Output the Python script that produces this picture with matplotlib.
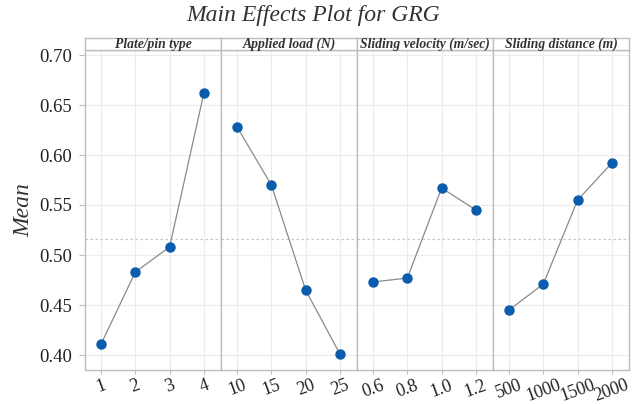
import matplotlib
matplotlib.use("Agg")
import matplotlib.pyplot as plt
import numpy as np

# Factor levels and mean GRG at each level
factors = ["Plate/pin type", "Applied load (N)", "Sliding velocity (m/sec)", "Sliding distance (m)"]
plate_levels = ["1", "2", "3", "4"]
plate_means = [0.411, 0.483, 0.508, 0.662]
load_levels = ["10", "15", "20", "25"]
load_means = [0.628, 0.570, 0.465, 0.401]
velocity_levels = ["0.6", "0.8", "1.0", "1.2"]
velocity_means = [0.473, 0.477, 0.567, 0.545]
distance_levels = ["500", "1000", "1500", "2000"]
distance_means = [0.445, 0.471, 0.555, 0.592]

levels = [plate_levels, load_levels, velocity_levels, distance_levels]
means = [plate_means, load_means, velocity_means, distance_means]
grand_mean = np.mean(plate_means)

serif = ["Liberation Serif", "DejaVu Serif"]
plt.rcParams["font.family"] = serif

fig = plt.figure(figsize=(6.36, 4.04), dpi=100)
left, right = 85 / 636, 629 / 636
bottom, top = 1 - 370 / 404, 1 - 50 / 404
strip_h = 12 / 404
width = (right - left) / 4

fig.text(313 / 636, 1 - 5 / 404, "Main Effects Plot for GRG", ha="center", va="top",
         fontsize=17, style="italic", color="#333333")

border = "#bdbdbd"
for i, (name, lv, mv) in enumerate(zip(factors, levels, means)):
    ax = fig.add_axes([left + i * width, bottom, width, top - bottom])
    x = np.arange(len(lv))
    ax.grid(True, color="#ececec", linewidth=0.8)
    ax.set_axisbelow(True)
    ax.axhline(grand_mean, color="#c8c8c8", linestyle=(0, (2, 2)), linewidth=0.9, zorder=1)
    ax.plot(x, mv, color="#8a8a8a", linewidth=0.9, zorder=2)
    ax.plot(x, mv, "o", color="#0a5cad", markersize=6.5, zorder=3)
    ax.set_xlim(-0.47, 3.5)
    ax.set_ylim(0.385, 0.705)
    ax.set_xticks(x)
    ax.set_xticklabels(lv, rotation=20, ha="center", fontsize=13, color="#222222")
    ax.set_yticks(np.arange(0.40, 0.701, 0.05))
    ax.tick_params(axis="x", length=3, color=border, pad=2)
    ax.tick_params(axis="y", length=4, color=border, labelsize=13.5, labelcolor="#222222", pad=5)
    for s in ax.spines.values():
        s.set_color(border)
        s.set_linewidth(1.0)
    if i > 0:
        ax.tick_params(axis="y", left=False, labelleft=False)
    else:
        ax.set_yticklabels([f"{v:.2f}" for v in np.arange(0.40, 0.701, 0.05)])
        ax.set_ylabel("Mean", fontsize=17, style="italic", color="#333333", labelpad=4)

    # header strip with factor name
    sax = fig.add_axes([left + i * width, top, width, strip_h])
    sax.set_xticks([])
    sax.set_yticks([])
    for s in sax.spines.values():
        s.set_color(border)
        s.set_linewidth(1.0)
    sax.text(0.5, 0.45, name, transform=sax.transAxes, ha="center", va="center",
             fontsize=9.8, style="italic", weight="bold", color="#333333")

fig.savefig("out.png", dpi=100)
